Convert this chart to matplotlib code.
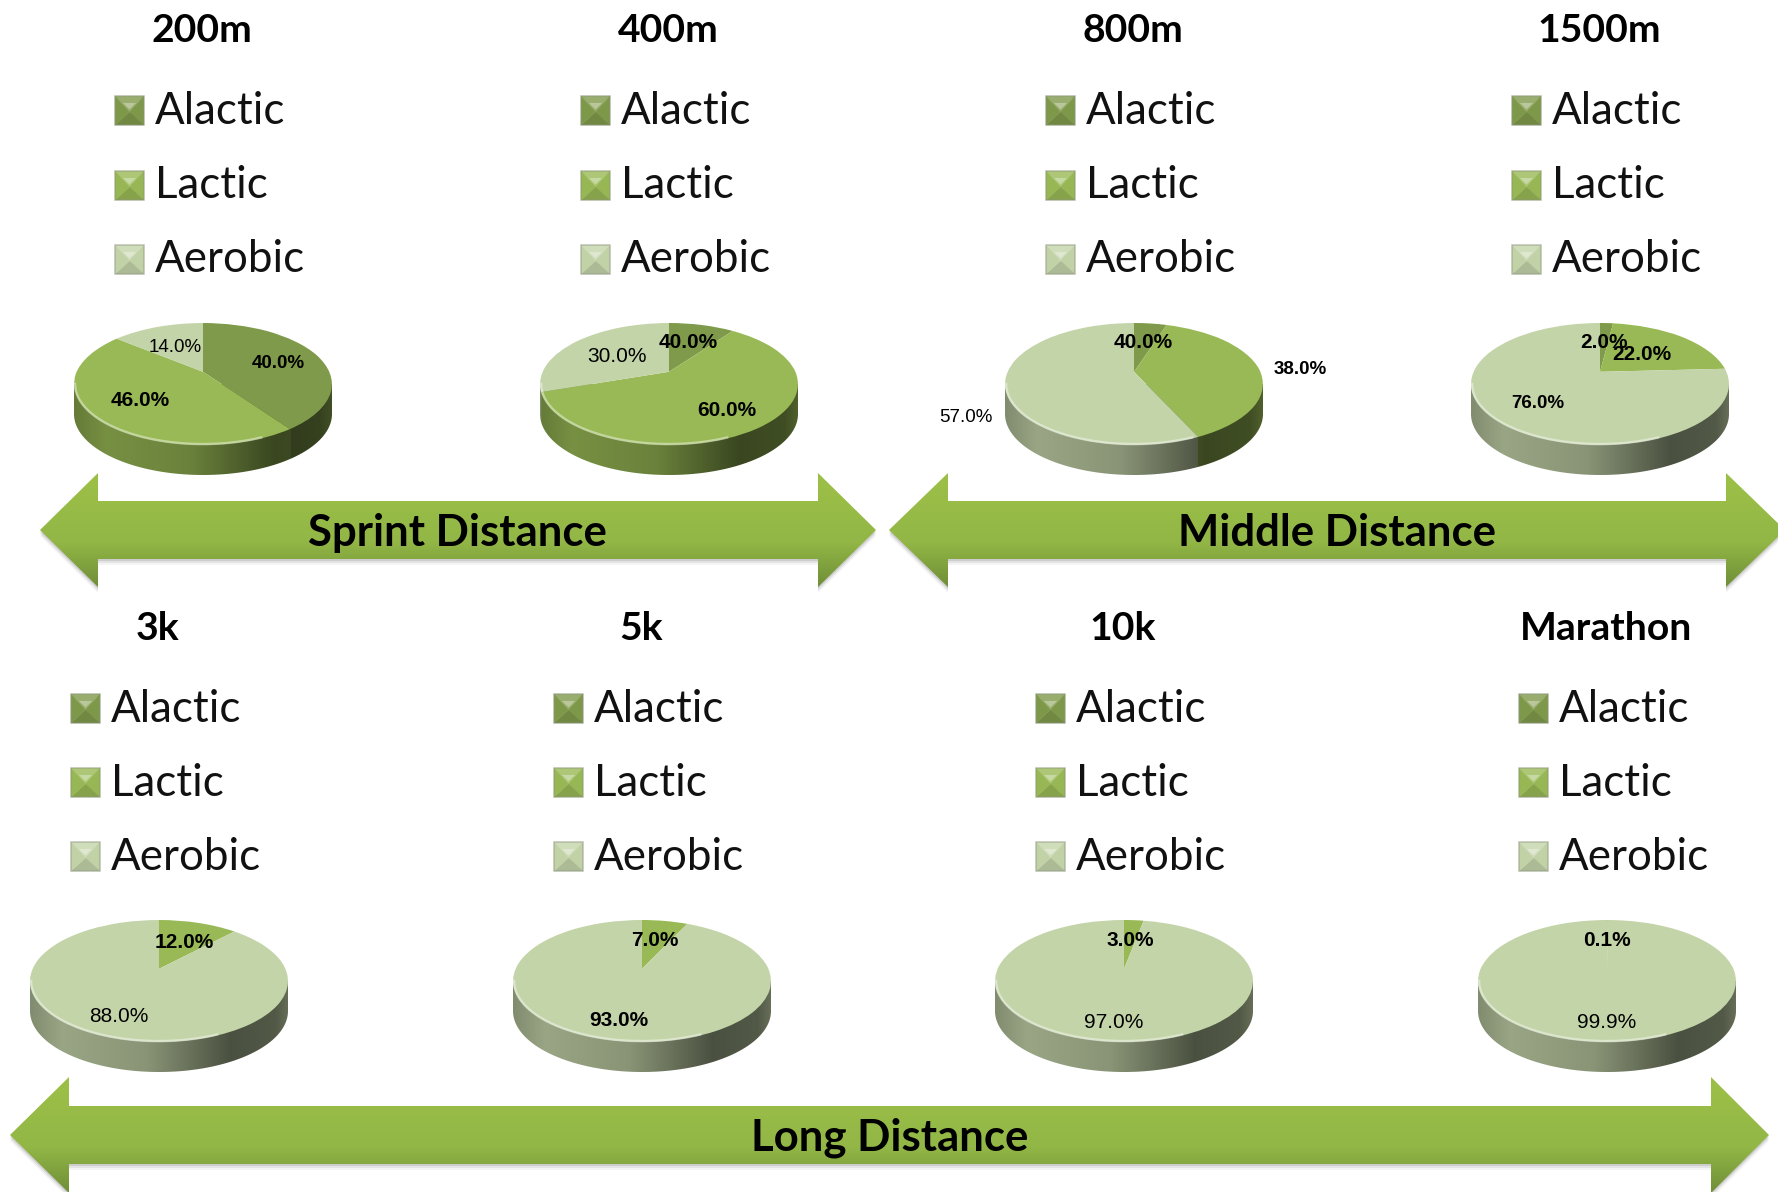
#!/usr/bin/env python3
"""Energy system contribution by race distance, drawn as tilted 3D style pies."""

import matplotlib
matplotlib.use("Agg")
import matplotlib.pyplot as plt
import numpy as np
from matplotlib.patches import Polygon
from matplotlib.transforms import Transform

W, H = 1778, 1192

EVENTS = ["200m", "400m", "800m", "1500m", "3k", "5k", "10k", "Marathon"]
SYSTEMS = ["Alactic", "Lactic", "Aerobic"]

# wedge sizes as drawn (the printed labels disagree on 400m and 800m)
ALACTIC = [40, 10, 5, 2, 0, 0, 0, 0]
LACTIC = [46, 60, 38, 22, 12, 7, 3, 0.1]
AEROBIC = [14, 30, 57, 76, 88, 93, 97, 99.9]

ALACTIC_LABELS = ["40.0%", "40.0%", "40.0%", "2.0%", None, None, None, None]
LACTIC_LABELS = ["46.0%", "60.0%", "38.0%", "22.0%", "12.0%", "7.0%", "3.0%", "0.1%"]
AEROBIC_LABELS = ["14.0%", "30.0%", "57.0%", "76.0%", "88.0%", "93.0%", "97.0%", "99.9%"]

GROUPS = ["Sprint Distance", "Middle Distance", "Long Distance"]

# layout, in reference pixels
PIE_X = [203, 669, 1134, 1600, 159, 642, 1124, 1607]
ALACTIC_POS = [(278, 363), (688, 343), (1143, 342), (1604, 342), None, None, None, None]
LACTIC_POS = [(140, 401), (727, 410), (1300, 370), (1642, 355), (184, 942), (655, 941), (1130, 940), (1607, 940)]
AEROBIC_POS = [(175, 347), (617, 357), (966, 417), (1538, 404), (119, 1016), (619, 1020), (1114, 1022), (1607, 1022)]
AEROBIC_BOLD = [False, False, False, True, False, True, False, False]
ALACTIC_SIZE = [13.5, 15, 15, 15, 15, 15, 15, 15]
LACTIC_SIZE = [15, 15, 13.5, 15, 15, 15, 15, 15]
AEROBIC_SIZE = [13.5, 15, 13.5, 13.5, 15, 15, 15, 15]

COLORS = ["#7f9a4a", "#98b955", "#c4d4a9"]
TILT = 0.2
SWING = 0.19  # rim points slide toward the back, as in a perspective view
RX, RY, DEPTH = 129, 61, 30
TEXT_FONT = "Lato"
LABEL_FONT = "Liberation Sans"


class FaceTilt(Transform):
    """Perspective look for the pie face: the rim outline stays, its angles slide."""

    input_dims = 2
    output_dims = 2

    def transform_non_affine(self, values):
        x, y = np.asarray(values).T
        r = np.hypot(x, y)
        phi = np.arctan2(x, y)
        phi = phi - SWING * np.sin(phi)
        return np.column_stack([r * np.sin(phi), r * np.cos(phi) + TILT * (1 - r**2)])


def side_strip(values, n=400):
    """Horizontal colour strip for the pie wall, from the wedge at the front rim."""
    xs = np.linspace(-1, 1, n)
    seen = np.pi - np.arcsin(xs)
    phi = seen.copy()
    for _ in range(8):
        phi = seen + SWING * np.sin(phi)
    edges = np.cumsum(values) / np.sum(values)
    idx = np.clip(np.searchsorted(edges, phi / (2 * np.pi)), 0, 2)
    base = np.array([matplotlib.colors.to_rgb(COLORS[i]) for i in idx])
    shade = np.interp(xs, [-1, -0.75, -0.1, 0.55, 0.9, 1], [0.66, 0.78, 0.7, 0.38, 0.42, 0.52])
    return (base * shade[:, None])[None, :, :]


def draw_pie(fig, cx, top, values):
    x0, x1 = cx - RX * 1.02, cx + RX * 1.02
    y0, y1 = top - 2, top + 2 * RY + DEPTH + 2
    ax = fig.add_axes([x0 / W, 1 - y1 / H, (x1 - x0) / W, (y1 - y0) / H], zorder=2)

    wedges, _ = ax.pie(
        values,
        colors=COLORS,
        startangle=90,
        counterclock=False,
        radius=1,
        wedgeprops={"linewidth": 0},
    )
    ax.set_aspect("auto")
    tilt = FaceTilt()
    for wedge in wedges:
        wedge.set_transform(tilt + ax.transData)
        wedge.set_zorder(3)

    d = DEPTH / RY
    t = np.linspace(-np.pi, 0, 120)
    wall = np.column_stack([np.cos(t), np.sin(t) - d])
    wall = np.vstack([[-1, 0], wall, [1, 0]])
    clip = Polygon(wall, closed=True, facecolor="none", edgecolor="none")
    ax.add_patch(clip)
    im = ax.imshow(side_strip(values), extent=(-1, 1, -1 - d, 0), aspect="auto", zorder=1)
    im.set_clip_path(clip)

    # light bevel along the front left of the rim
    t = np.linspace(-np.pi, -0.35 * np.pi, 80)
    ax.plot(np.cos(t) * 0.992, np.sin(t) * 0.985, color="white", alpha=0.42, lw=1.8, zorder=4)

    ax.set_xlim((x0 - cx) / RX, (x1 - cx) / RX)
    ax.set_ylim(-1 - d - 2 / RY, 1 + 2 / RY)
    ax.axis("off")


def draw_swatch(ax, x, y, color, size=29):
    """Small legend square, four facets meeting in the middle."""
    rgb = np.array(matplotlib.colors.to_rgb(color))
    light = rgb + (1 - rgb) * 0.2
    glow = rgb + (1 - rgb) * 0.45
    mid = rgb * 0.99
    dark = rgb * 0.88
    corners = [(x, y), (x + size, y), (x + size, y + size), (x, y + size)]
    centre = (x + size / 2, y + size * 0.55)
    for i, shade in enumerate([light, mid, dark, mid]):
        j = (i + 1) % 4
        ax.add_patch(Polygon([corners[i], corners[j], centre], facecolor=shade, edgecolor=shade, lw=0.3))
    ax.add_patch(Polygon(
        [(x + size * 0.27, y + size * 0.24), (x + size * 0.73, y + size * 0.24), (x + size / 2, y + size * 0.46)],
        facecolor=glow, edgecolor="none",
    ))
    ax.add_patch(Polygon(corners, facecolor="none", edgecolor="#8c9480", alpha=0.45, lw=1.2))


def draw_arrow(ax, x_tip0, x_base0, x_base1, x_tip1, y_mid, y_head, y_shaft):
    """Double headed band arrow with a vertical gradient and a soft shadow."""
    pts = [
        (x_tip0, y_mid), (x_base0, y_mid - y_head), (x_base0, y_mid - y_shaft),
        (x_base1, y_mid - y_shaft), (x_base1, y_mid - y_head), (x_tip1, y_mid),
        (x_base1, y_mid + y_head), (x_base1, y_mid + y_shaft), (x_base0, y_mid + y_shaft),
        (x_base0, y_mid + y_head),
    ]
    for off, alpha in [(6, 0.06), (4, 0.10), (2, 0.16)]:
        shadow = [(px, py + off) for px, py in pts]
        ax.add_patch(Polygon(shadow, facecolor="#555555", edgecolor="none", alpha=alpha, zorder=1))

    top = np.array(matplotlib.colors.to_rgb("#9cc047"))
    mid = np.array(matplotlib.colors.to_rgb("#93b746"))
    low = np.array(matplotlib.colors.to_rgb("#6f8e37"))
    frac = np.linspace(0, 1, 200)[:, None]
    grad = np.where(frac < 0.6, top + (mid - top) * frac / 0.6, mid + (low - mid) * (frac - 0.6) / 0.4)
    clip = Polygon(pts, facecolor="none", edgecolor="none", zorder=2)
    ax.add_patch(clip)
    im = ax.imshow(
        grad[:, None, :],
        extent=(x_tip0, x_tip1, y_mid + y_head, y_mid - y_head),
        aspect="auto",
        zorder=2,
    )
    im.set_clip_path(clip)


def main():
    fig = plt.figure(figsize=(W / 100, H / 100), dpi=100, facecolor="white")

    for i in range(len(EVENTS)):
        top = 323 if i < 4 else 920
        draw_pie(fig, PIE_X[i], top, [ALACTIC[i], LACTIC[i], AEROBIC[i]])

    ov = fig.add_axes([0, 0, 1, 1], zorder=5)
    ov.patch.set_visible(False)

    draw_arrow(ov, 40, 98, 818, 876, 530, 57, 29)
    draw_arrow(ov, 889, 948, 1726, 1785, 530, 57, 29)
    draw_arrow(ov, 10, 69, 1711, 1769, 1135, 58, 29)
    for name, x, y in zip(GROUPS, [457, 1337, 890], [533, 533, 1138]):
        ov.text(x, y, name, family=TEXT_FONT, weight="bold", fontsize=31.5, ha="center", va="center", color="black", zorder=6)

    for i, event in enumerate(EVENTS):
        cx = PIE_X[i]
        first = i < 4
        title_y = 31 if first else 629
        ov.text(cx - 1, title_y, event, family=TEXT_FONT, weight="bold", fontsize=28.2, ha="center", va="center", color="black", zorder=6)
        rows = [111, 186, 260] if first else [709, 783, 857]
        for name, color, y in zip(SYSTEMS, COLORS, rows):
            draw_swatch(ov, cx - 88, y - 15, color)
            ov.text(cx - 48, y, name, family=TEXT_FONT, fontsize=31.6, ha="left", va="center", color="#111111", zorder=6)

        for label, pos, bold, size in [
            (ALACTIC_LABELS[i], ALACTIC_POS[i], True, ALACTIC_SIZE[i]),
            (LACTIC_LABELS[i], LACTIC_POS[i], True, LACTIC_SIZE[i]),
            (AEROBIC_LABELS[i], AEROBIC_POS[i], AEROBIC_BOLD[i], AEROBIC_SIZE[i]),
        ]:
            if label is None:
                continue
            ov.text(
                pos[0], pos[1], label, family=LABEL_FONT,
                weight="bold" if bold else "normal",
                fontsize=size, ha="center", va="center", color="black", zorder=7,
            )

    ov.set_xlim(0, W)
    ov.set_ylim(H, 0)
    ov.axis("off")

    fig.savefig("out.png", dpi=100, facecolor="white")
    plt.close(fig)


if __name__ == "__main__":
    main()
